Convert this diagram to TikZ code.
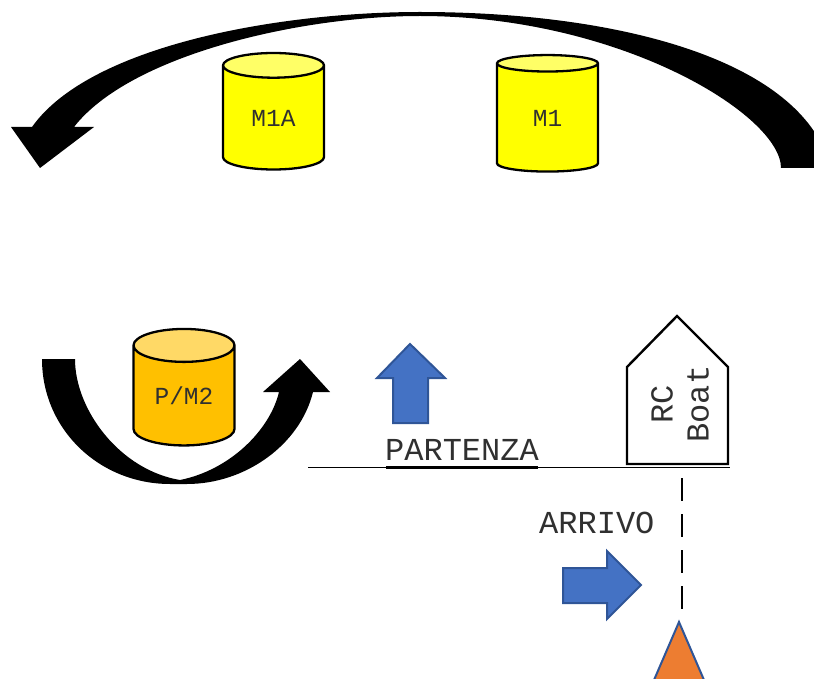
\documentclass[tikz,border=0pt]{standalone}
\usepackage{fontspec}
\setmonofont{Liberation Mono}
\usetikzlibrary{shapes.geometric}
\definecolor{cylY}{HTML}{FFFF00}
\definecolor{cylYtop}{HTML}{FFFF66}
\definecolor{cylO}{HTML}{FFC000}
\definecolor{cylOtop}{HTML}{FFD966}
\definecolor{blueF}{HTML}{4472C4}
\definecolor{blueE}{HTML}{2F5597}
\definecolor{orangeF}{HTML}{ED7D31}
\definecolor{txt}{HTML}{303030}
\tikzset{
  can/.style={shape=cylinder, shape border rotate=90, aspect=0.56, draw=black, line width=2.3pt,
    minimum width=101pt, minimum height=116.5pt, inner sep=0pt, outer sep=0pt,
    cylinder uses custom fill, text=txt, font=\ttfamily\fontsize{24.5}{26}\selectfont},
  canY/.style={can, cylinder body fill=cylY, cylinder end fill=cylYtop},
  canO/.style={can, cylinder body fill=cylO, cylinder end fill=cylOtop},
  bigtxt/.style={text=txt, inner sep=0pt, font=\ttfamily\fontsize{32}{36}\selectfont},
  sweep/.style={fill=black, draw=none},
  bluearrow/.style={fill=blueF, draw=blueE, line width=2pt, line join=miter},
  markbuoy/.style={fill=orangeF, draw=blueE, line width=2pt, line join=miter},
  boat/.style={fill=white, draw=black, line width=2.4pt, line join=miter},
  lane/.style={draw=black, line width=1.2pt, dash pattern=on 23pt off 13pt},
  rulethin/.style={draw=black, line width=1.4pt},
  rulethick/.style={draw=black, line width=2.4pt}
}
\begin{document}
\begin{tikzpicture}[x=1pt,y=-1pt]
\useasboundingbox (0,0) rectangle (814,679);
\clip (0,0) rectangle (814,679);
% large sweeping arrow
\fill[sweep] (781,168)
  .. controls (781,115) and (620,16) .. (420,16)
  .. controls (300,16) and (130,55) .. (74,127)
  -- (94,127) -- (40,168) -- (11,127) -- (32,127)
  .. controls (90,45) and (280,12) .. (420,12)
  .. controls (620,12) and (800,60) .. (830,165)
  -- (830,168) -- cycle;
% lower sweeping arrow
\fill[sweep] (42,359) -- (75,359)
  .. controls (75,410) and (120,470) .. (180,480)
  .. controls (230,470) and (270,430) .. (279,392)
  -- (263,392) -- (300,359) -- (330,392) -- (313,392)
  .. controls (300,445) and (245,484) .. (187,484)
  -- (170,484)
  .. controls (100,484) and (42,430) .. (42,359) -- cycle;
% cylinders
\node[canY] (m1a) at (273.5,118) {M1A};
\node[canY] (m1) at (547.5,118) {M1};
\node[canO] (pm2) at (184,396) {P/M2};
% blue arrows
\draw[bluearrow] (410,344) -- (445,378) -- (428,378) -- (428,423) -- (393,423) -- (393,378) -- (377,378) -- cycle;
\draw[bluearrow] (641,585) -- (607,619) -- (607,603) -- (563,603) -- (563,568) -- (607,568) -- (607,551) -- cycle;
% boat
\draw[boat] (677,316) -- (728,367) -- (728,464) -- (627,464) -- (627,367) -- cycle;
\node[bigtxt, rotate=90, align=center] (rc) at (680,404) {RC\\Boat};
% labels
\node[bigtxt, anchor=base] (part) at (462,460) {PARTENZA};
\node[bigtxt, anchor=base west] (arr) at (539,533) {ARRIVO};
% baseline rule
\coordinate (ruleA) at (308,467.5);
\coordinate (ruleB) at (730,467.5);
\coordinate (ruleC) at (386,467.5);
\coordinate (ruleD) at (538,467.5);
\draw[rulethin] (ruleA) -- (ruleB);
\draw[rulethick] (ruleC) -- (ruleD);
% dashed lane and mark
\coordinate (laneA) at (682,478);
\coordinate (laneB) at (682,609);
\draw[lane] (laneA) -- (laneB);
\draw[markbuoy] (679,622) -- (704,680) -- (654,680) -- cycle;
\end{tikzpicture}
\end{document}
